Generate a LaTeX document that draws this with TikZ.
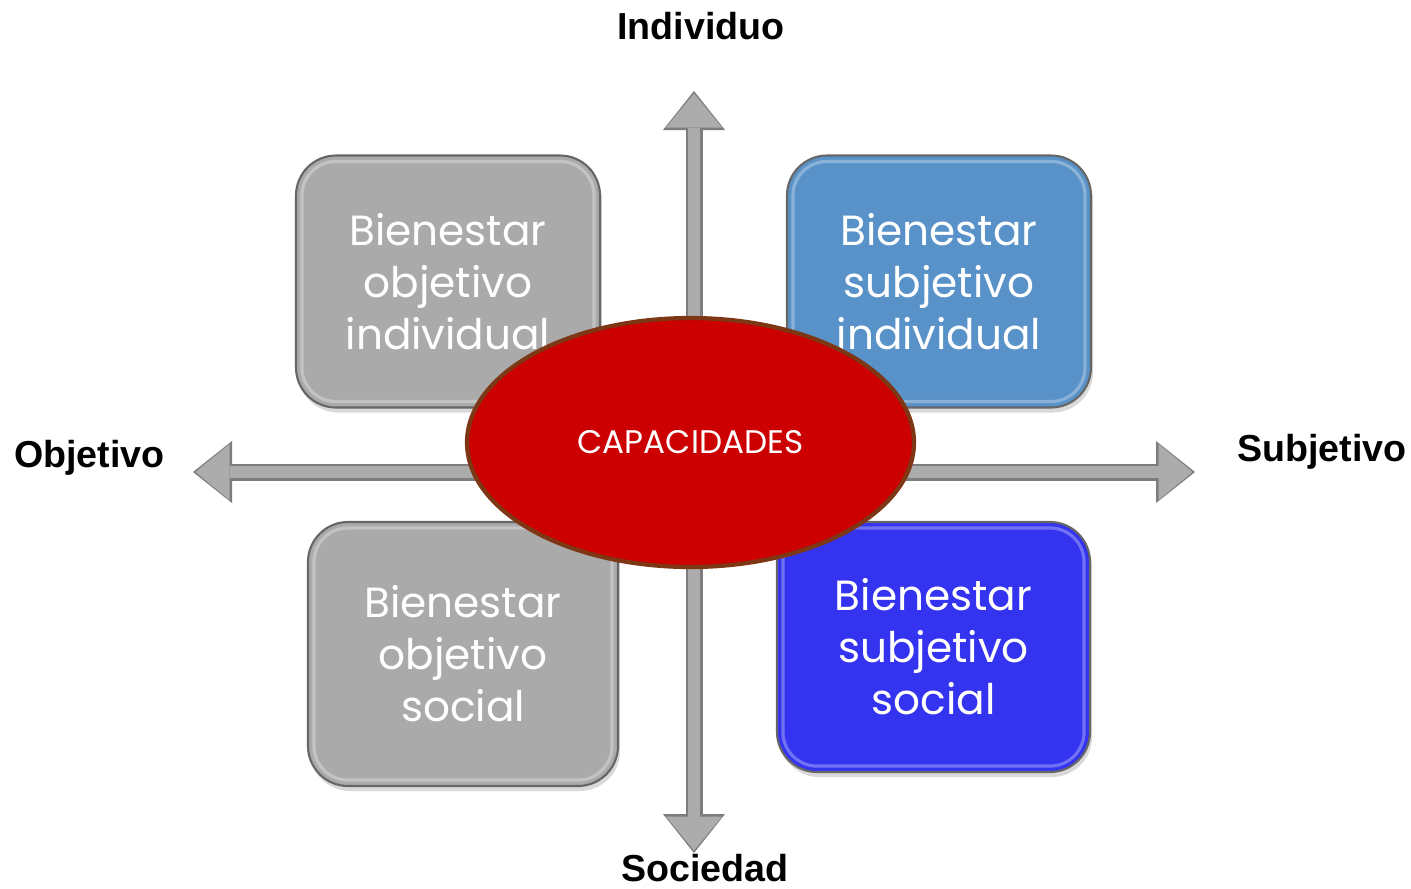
\documentclass[tikz,border=0pt]{standalone}
\usepackage{fontspec}
\setmainfont{Liberation Sans}
\newfontfamily\boxfont{Poppins}
\usetikzlibrary{arrows.meta,shapes.geometric,shadows,calc}
\definecolor{boxgray}{RGB}{170,170,170}
\definecolor{boxblue}{RGB}{88,146,200}
\definecolor{boxdeep}{RGB}{52,52,240}
\definecolor{capred}{RGB}{204,0,0}
\definecolor{caprim}{RGB}{125,55,20}
\definecolor{axisfill}{RGB}{172,172,172}
\definecolor{axisedge}{RGB}{125,125,125}

\begin{document}
\begin{tikzpicture}[
    box/.style={draw=black!60, line width=0.6pt, rounded corners=0.4cm,
      minimum width=3.04cm, minimum height=2.52cm, inner sep=0pt,
      align=center, text=white,
      font=\boxfont\fontsize{12}{14.8}\selectfont,
      drop shadow={opacity=0.3, shadow xshift=0.02cm, shadow yshift=-0.05cm}},
    gleam/.style={draw=white, opacity=0.3, line width=0.9pt, rounded corners=0.34cm},
    axisout/.style={draw=axisedge, line width=0.17cm,
      {Triangle[width=0.62cm,length=0.39cm,line width=0pt]}-{Triangle[width=0.62cm,length=0.39cm,line width=0pt]}},
    axisin/.style={draw=axisfill, line width=0.12cm, shorten <=0.025cm, shorten >=0.025cm,
      {Triangle[width=0.56cm,length=0.34cm,line width=0pt]}-{Triangle[width=0.56cm,length=0.34cm,line width=0pt]}},
    axislabel/.style={font=\fontsize{10.7}{12}\selectfont\bfseries, inner sep=0pt, anchor=base}
  ]
  \useasboundingbox (0,0) rectangle (14.11,-8.88);

  % axis ends
  \coordinate (up) at (6.94,-0.91);
  \coordinate (down) at (6.94,-8.53);
  \coordinate (left) at (1.93,-4.72);
  \coordinate (right) at (11.95,-4.72);

  % axes
  \draw[axisout] (down) -- (up);
  \draw[axisin] (down) -- (up);
  \draw[axisout] (left) -- (right);
  \draw[axisin] (left) -- (right);

  % quadrants
  \node[box, fill=boxgray] (objind) at (4.48,-2.815) {Bienestar\\objetivo\\individual};
  \node[box, fill=boxblue] (subind) at (9.39,-2.815) {Bienestar\\subjetivo\\individual};
  \node[box, fill=boxgray, minimum width=3.1cm, minimum height=2.64cm] (objsoc) at (4.63,-6.54) {Bienestar\\objetivo\\social};
  \node[box, fill=boxdeep, minimum width=3.13cm, minimum height=2.5cm] (subsoc) at (9.335,-6.47) {Bienestar\\subjetivo\\social};
  \foreach \q in {objind,subind,objsoc,subsoc}
    \draw[gleam] ($(\q.south west)+(0.07,0.07)$) rectangle ($(\q.north east)-(0.07,0.07)$);

  % centre
  \node[ellipse, fill=capred, draw=caprim, line width=1.2pt,
    minimum width=4.47cm, minimum height=2.49cm, inner sep=0pt, text=white,
    font=\boxfont\fontsize{9.3}{12}\selectfont] (cap) at (6.905,-4.425) {CAPACIDADES};

  % axis labels
  \node[axislabel] (indiv) at (7.01,-0.393) {Individuo};
  \node[axislabel] (soc) at (7.05,-8.817) {Sociedad};
  \node[axislabel] (obj) at (0.895,-4.677) {Objetivo};
  \node[axislabel] (subj) at (13.22,-4.617) {Subjetivo};
\end{tikzpicture}
\end{document}
